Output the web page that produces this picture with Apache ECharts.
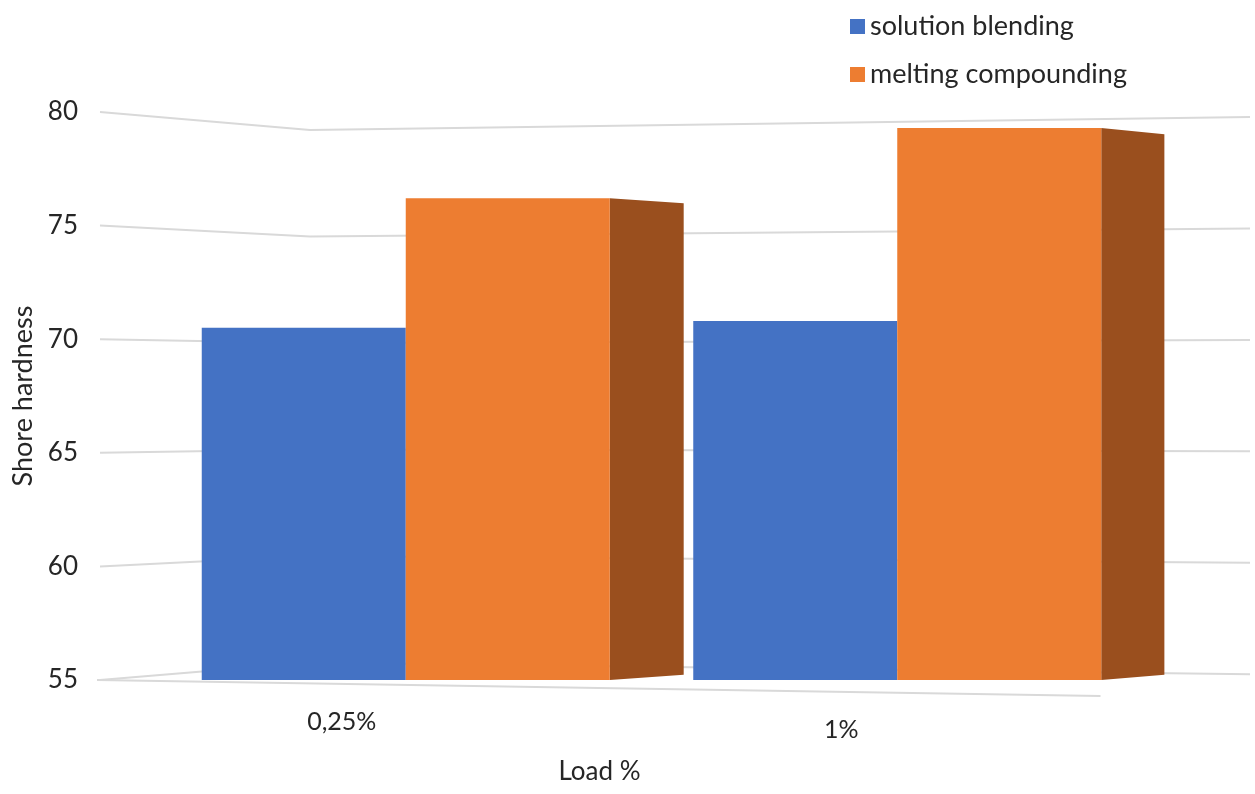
<!DOCTYPE html>
<html>
<head>
<meta charset="utf-8">
<script src="https://cdn.jsdelivr.net/npm/echarts@6/dist/echarts.min.js"></script>
<style>
html,body{margin:0;padding:0;background:#fff;}
#chart{width:1255px;height:794px;}
</style>
</head>
<body>
<div id="chart"></div>
<script>
const categories = ['0,25%', '1%'];
const solutionBlending = [70.5, 70.8];
const meltingCompounding = [76.2, 79.3];
const yTicks = [55, 60, 65, 70, 75, 80];
const seriesNames = ['solution blending', 'melting compounding'];

const FONT = 'Lato';
const TXT = '#262626';
const BAR_W = 204;
const Y_MIN = yTicks[0], Y_MAX = yTicks[yTicks.length - 1];

const chart = echarts.init(document.getElementById('chart'));

function gridlineItem(params, api) {
  const v = api.value(1);
  const pL = api.coord([0, v]);
  const pR = api.coord([1, v]);
  const top = api.coord([0, Y_MAX])[1];
  const bx = pL[0] + (pR[0] - pL[0]) * 0.1826;
  const by = top + 18 + (pL[1] - top) * 0.9375;
  const ry = top + 5 + (pL[1] - top) * 0.981;
  const style = { stroke: '#D9D9D9', lineWidth: 2, fill: null };
  const children = [{
    type: 'polyline',
    shape: { points: [[pL[0], pL[1]], [bx, by], [pR[0], ry]] },
    style: style
  }];
  if (v === Y_MIN) {
    children.push({
      type: 'polyline',
      shape: { points: [[pL[0] - 3, pL[1]], [pL[0] + (pR[0] - pL[0]) * 0.87, pL[1] + 16]] },
      style: style
    });
  }
  return { type: 'group', children: children };
}

function sideItem(params, api) {
  const i = api.value(0), v = api.value(1);
  const c = api.coord([i, v]);
  const b = api.coord([i, Y_MIN]);
  const xr = c[0] + BAR_W;
  const dx = 74 - 0.022 * (xr - 607);
  const dyT = 0.021 * (430 - c[1]);
  const dyB = 0.021 * (430 - b[1]);
  return {
    type: 'polygon',
    shape: { points: [[xr, c[1]], [xr + dx, c[1] + dyT], [xr + dx, b[1] + dyB], [xr, b[1]]] },
    style: { fill: '#9A4F1E' }
  };
}

const option = {
  backgroundColor: '#ffffff',
  animation: false,
  textStyle: { fontFamily: FONT },
  legend: {
    data: seriesNames,
    orient: 'vertical',
    left: 845,
    top: 8,
    icon: 'rect',
    itemWidth: 15,
    itemHeight: 15,
    itemGap: 21,
    textStyle: { fontSize: 27, color: TXT, fontFamily: FONT }
  },
  grid: [
    { left: 100, right: 5, top: 112, bottom: 114 },
    { left: 160, right: 112, top: 112, bottom: 114 }
  ],
  xAxis: [
    { type: 'value', gridIndex: 0, min: 0, max: 1, show: false },
    {
      type: 'category', gridIndex: 1, data: categories,
      axisLine: { show: false }, axisTick: { show: false },
      axisLabel: {
        margin: 29,
        fontSize: 25, color: TXT, fontFamily: FONT,
        formatter: function (val, idx) { return idx === 0 ? '{a|' + val + '}' : '{b|' + val + '}'; },
        rich: {
          a: { fontSize: 25, color: TXT, fontFamily: FONT, padding: [0, 128, 0, 0] },
          b: { fontSize: 25, color: TXT, fontFamily: FONT, padding: [8, 112, 0, 0] }
        }
      },
      name: 'Load %', nameLocation: 'middle', nameGap: 79,
      nameTextStyle: { fontSize: 26, color: TXT, fontFamily: FONT, padding: [0, 104, 0, 0] }
    }
  ],
  yAxis: [
    {
      type: 'value', gridIndex: 0, min: Y_MIN, max: Y_MAX, interval: 5,
      axisLine: { show: false }, axisTick: { show: false },
      splitLine: { show: false },
      axisLabel: { margin: 22, fontSize: 26, color: TXT, fontFamily: FONT },
      name: 'Shore hardness', nameLocation: 'middle', nameGap: 61,
      nameTextStyle: { fontSize: 27, color: TXT, fontFamily: FONT }
    },
    {
      type: 'value', gridIndex: 1, min: Y_MIN, max: Y_MAX, interval: 5, show: false,
      splitLine: { show: false }
    }
  ],
  series: [
    {
      type: 'custom', name: 'grid', xAxisIndex: 0, yAxisIndex: 0,
      data: yTicks.map(v => [0, v]), renderItem: gridlineItem, clip: false, z: 0,
      silent: true
    },
    {
      type: 'bar', name: seriesNames[0], xAxisIndex: 1, yAxisIndex: 1,
      data: solutionBlending, barWidth: BAR_W, barGap: '0%',
      itemStyle: { color: '#4472C4' }, z: 3
    },
    {
      type: 'bar', name: seriesNames[1], xAxisIndex: 1, yAxisIndex: 1,
      data: meltingCompounding, barWidth: BAR_W, barGap: '0%',
      itemStyle: { color: '#ED7D31' }, z: 3
    },
    {
      type: 'custom', name: 'side', xAxisIndex: 1, yAxisIndex: 1,
      data: meltingCompounding.map((v, i) => [i, v]), renderItem: sideItem, clip: false, z: 3,
      silent: true
    }
  ]
};
chart.setOption(option);
</script>
</body>
</html>
